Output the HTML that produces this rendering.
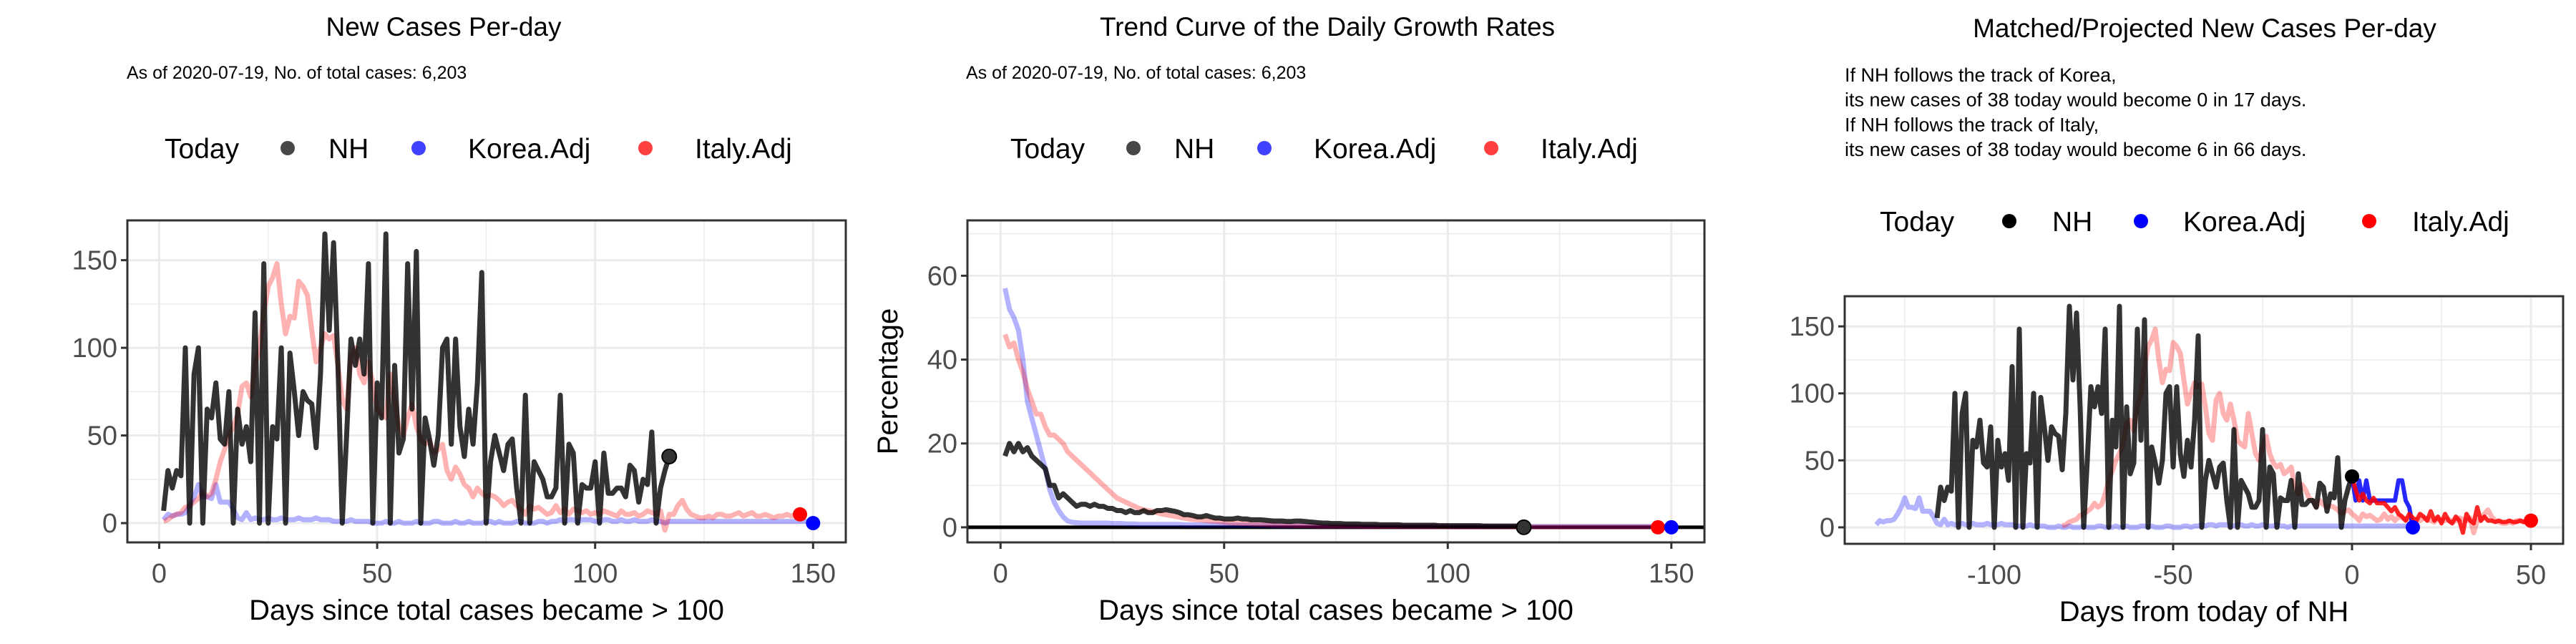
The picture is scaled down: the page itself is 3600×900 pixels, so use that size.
<!DOCTYPE html>
<html><head><meta charset="utf-8">
<style>
html,body{margin:0;padding:0;background:#fff;}
svg{display:block;font-family:"Liberation Sans",Arial,sans-serif;}
</style></head>
<body>
<svg id="chart" width="3600" height="900" viewBox="0 0 3600 900" xmlns="http://www.w3.org/2000/svg"></svg>
<script>
// ---- data ----
const nhCases = [7,30,20,30,27,100,0,85,100,0,65,60,80,48,45,75,0,65,45,55,35,120,0,148,0,55,48,100,0,97,75,50,75,70,68,43,85,165,110,160,90,0,50,105,90,105,85,148,0,80,60,165,0,90,40,48,148,65,155,0,60,48,33,50,100,105,45,105,55,38,65,45,80,143,0,35,50,40,30,45,48,20,0,73,0,35,30,25,15,15,20,73,0,45,40,0,22,20,20,35,0,40,17,17,20,20,15,33,30,12,25,22,52,0,20,30,38];
const italyCases = [1,2,4,5,6,9,10,12,14,18,15,17,25,35,42,50,55,62,78,80,72,90,100,120,135,140,148,125,108,118,117,138,135,130,110,92,100,108,105,107,90,70,65,95,100,85,80,92,80,65,62,60,85,70,55,50,60,68,55,48,45,47,40,42,45,30,25,32,28,22,20,15,20,17,15,16,15,13,10,12,13,10,8,5,10,8,9,7,5,6,10,6,8,5,8,7,6,7,5,6,5,7,6,5,4,7,5,5,6,4,5,7,6,5,7,-4,5,5,10,13,8,5,4,3,3,4,3,5,5,4,4,5,6,4,5,6,4,4,5,4,3,4,4,5,4,5,5];
const koreaCases = [2,5,4,5,5,6,10,15,22,15,15,14,22,12,12,12,8,3,2,6,2,3,2,2,3,2,2,3,2,2,2,3,2,2,2,3,2,2,2,1,1,1,1,2,1,1,1,1,0,0,0,1,0,0,1,0,0,0,1,0,0,0,1,1,0,0,0,1,0,0,1,0,0,0,1,1,0,1,0,0,0,1,1,0,0,0,1,1,0,1,1,2,1,2,2,1,2,2,2,1,1,2,2,1,1,2,1,1,2,1,1,1,2,1,1,0,1,1,1,1,1,1,1,1,1,1,1,1,1,1,1,1,1,1,1,1,1,1,1,1,1,1,1,1,1,1,1,1,1,0];
const nhGrowth = [17,20,18,20,18,19,17,16,15,14,10,10,7,8,7,6,5,5.5,5.5,5,5.5,5,5,4.5,4.5,4,4,3.5,4,3.5,3.5,4,3.5,3.5,4,4,4.2,4,3.8,3.5,3,3,2.8,2.5,2.5,2.8,2.5,2.2,2.2,2,2,2,2.2,2,2,1.8,1.8,1.8,1.7,1.6,1.5,1.5,1.5,1.4,1.4,1.5,1.5,1.4,1.3,1.2,1.1,1,1,0.9,0.9,0.9,0.8,0.8,0.8,0.8,0.7,0.7,0.7,0.7,0.6,0.6,0.6,0.6,0.6,0.5,0.5,0.5,0.5,0.5,0.5,0.5,0.5,0.4,0.4,0.4,0.4,0.4,0.4,0.4,0.4,0.4,0.4,0.3,0.3,0.3,0.3,0.3,0.3,0.3,0.3,0.3,0.3];
const koreaGrowth = [57,52,50,47,40,30,26,22,18,14,9,6,4,2.5,1.5,1.2,1.1,1,1,1,1,1,1,1,0.9,0.9,0.9,0.8,0.8,0.8,0.7,0.7,0.7,0.7,0.7,0.7,0.7,0.7,0.7,0.7,0.6,0.6,0.6,0.6,0.6,0.6,0.6,0.6,0.6,0.6,0.5,0.5,0.5,0.5,0.5,0.5,0.5,0.5,0.5,0.5,0.4,0.4,0.4,0.4,0.4,0.4,0.4,0.4,0.4,0.4,0.3,0.3,0.3,0.3,0.3,0.3,0.3,0.3,0.3,0.3,0.3,0.3,0.3,0.3,0.3,0.3,0.3,0.3,0.3,0.3,0.3,0.3,0.3,0.3,0.3,0.3,0.3,0.3,0.3,0.3,0.2,0.2,0.2,0.2,0.2,0.2,0.2,0.2,0.2,0.2,0.2,0.2,0.2,0.2,0.2,0.2,0.2,0.2,0.2,0.2,0.2,0.2,0.2,0.2,0.2,0.2,0.2,0.2,0.2,0.2,0.2,0.2,0.2,0.2,0.2,0.2,0.2,0.2,0.2,0.2,0.2,0.2,0.2,0.2,0.2,0.2,0.2,0.2,0.2,0.2];
const italyGrowth = [46,43,44,40,37,33,30,27,27,24,22,22,21,20,18,17,16,15,14,13,12,11,10,9,8,7,6.5,6,5.5,5,4.5,4.2,4,3.8,3.5,3.2,3,2.8,2.6,2.4,2.2,2,1.9,1.8,1.7,1.6,1.5,1.4,1.3,1.2,1.1,1,1,0.9,0.9,0.8,0.8,0.7,0.7,0.6,0.6,0.5,0.5,0.5,0.5,0.4,0.4,0.4,0.4,0.4,0.3,0.3,0.3,0.3,0.3,0.3,0.3,0.3,0.3,0.3,0.2,0.2,0.2,0.2,0.2,0.2,0.2,0.2,0.2,0.2,0.2,0.2,0.2,0.2,0.2,0.2,0.2,0.2,0.2,0.2,0.1,0.1,0.1,0.1,0.1,0.1,0.1,0.1,0.1,0.1,0.1,0.1,0.1,0.1,0.1,0.1,0.1,0.1,0.1,0.1,0.1,0.1,0.1,0.1,0.1,0.1,0.1,0.1,0.1,0.1,0.1,0.1,0.1,0.1,0.1,0.1,0.1,0.1,0.1,0.1,0.1,0.1,0.1,0.1,0.1,0.1,0.1];
const koreaProj = [38,20,35,20,35,20,20,20,20,20,20,20,20,35,35,20,15,0];
const italyProj = [38,28,20,25,20,18,22,18,18,18,15,12,15,10,8,5,10,7,5,10,8,5,12,5,8,3,10,5,3,8,5,-4,10,5,3,15,5,8,5,5,4,5,4,4,5,4,4,5,4,5,5];
const casesTicks = [0,50,100,150];
const growthTicks = [0,20,40,60];
const daysTicks = [0,50,100,150];
const fromTodayTicks = [-100,-50,0,50];
const nhOffset = 117, italyOffset = 82, koreaOffset = 134;

const svg = document.getElementById('chart');
const NS = 'http://www.w3.org/2000/svg';
function mk(tag, attrs, parent){const e=document.createElementNS(NS,tag);for(const k in attrs)e.setAttribute(k,attrs[k]);(parent||svg).appendChild(e);return e;}
function txt(s,x,y,size,anchor,fill,parent){const t=mk('text',{x:x,y:y,'font-size':size,'text-anchor':anchor||'start',fill:fill||'#000'},parent);t.textContent=s;return t;}

function panel(p){
  const g = mk('g',{});
  
  
  const sx = v => p.x0 + (v - p.xmin)/(p.xmax - p.xmin)*(p.x1 - p.x0);
  const sy = v => p.y1 - (v - p.ymin)/(p.ymax - p.ymin)*(p.y1 - p.y0);
  // minor grid
  p.xminor.forEach(v=>mk('line',{x1:sx(v),x2:sx(v),y1:p.y0,y2:p.y1,stroke:'#ebebeb','stroke-width':1.5},g));
  p.yminor.forEach(v=>mk('line',{x1:p.x0,x2:p.x1,y1:sy(v),y2:sy(v),stroke:'#ebebeb','stroke-width':1.5},g));
  p.xticks.forEach(v=>mk('line',{x1:sx(v),x2:sx(v),y1:p.y0,y2:p.y1,stroke:'#ebebeb','stroke-width':3},g));
  p.yticks.forEach(v=>mk('line',{x1:p.x0,x2:p.x1,y1:sy(v),y2:sy(v),stroke:'#ebebeb','stroke-width':3},g));
  const cid = 'clip-'+p.name;
  const cp = mk('clipPath',{id:cid},g); mk('rect',{x:p.x0,y:p.y0,width:p.x1-p.x0,height:p.y1-p.y0},cp);
  const lg = mk('g',{'clip-path':'url(#'+cid+')'},g);
  if(p.zeroLine){const z=mk('line',{x1:p.x0,x2:p.x1,y1:sy(0),y2:sy(0),stroke:'#000','stroke-width':5},lg);
    
    }
  p.series.forEach(s=>{
    let d='';
    s.vals.forEach((v,i)=>{const xv=i+s.off; if(s.maxX!==undefined && xv>s.maxX) return; d+=(d?'L':'M')+sx(xv).toFixed(1)+','+sy(v).toFixed(1);});
    const path = mk('path',{d:d,fill:'none',stroke:s.color,'stroke-width':s.w,'stroke-opacity':s.op,'stroke-linejoin':'round'},lg);
    
    
  });
  p.dots.forEach(dt=>{
    const c = mk('circle',{cx:sx(dt.x),cy:sy(dt.y),r:10,fill:dt.color,'fill-opacity':dt.op||1,stroke:'#000','stroke-opacity':dt.so||0,'stroke-width':2},g);
    
    
  });
  mk('rect',{x:p.x0,y:p.y0,width:p.x1-p.x0,height:p.y1-p.y0,fill:'none',stroke:'#333','stroke-width':3},g);
  p.xticks.forEach(v=>{mk('line',{x1:sx(v),x2:sx(v),y1:p.y1,y2:p.y1+9,stroke:'#333','stroke-width':3},g);
    const t=txt(String(v).replace('-','-'),sx(v),p.y1+56,38,'middle','#4d4d4d',g);
    
    });
  p.yticks.forEach(v=>{mk('line',{x1:p.x0-9,x2:p.x0,y1:sy(v),y2:sy(v),stroke:'#333','stroke-width':3},g);
    const t=txt(String(v),p.x0-14,sy(v)+13,38,'end','#4d4d4d',g);
    
    });
  const xt = txt(p.xtitle,(p.x0+p.x1)/2,p.y1+108,40,'middle','#000',g);
  
  
  if(p.ytitle){const yt=mk('text',{x:0,y:0,'font-size':40,'text-anchor':'middle',transform:'translate('+p.ytx+','+((p.y0+p.y1)/2)+') rotate(-90)'},g);yt.textContent=p.ytitle;
    
    }
}

function legend(x, y, pos, cols){
  const g = mk('g',{});
  
  
  const t=txt('Today',x,y+14,39,'start','#000',g);
  
  
  const labels=['NH','Korea.Adj','Italy.Adj'];
  labels.forEach((l,i)=>{
    const c=mk('circle',{cx:pos[i][0],cy:y,r:10,fill:cols[i][0],'fill-opacity':cols[i][1]},g);
    
    
    const lt=txt(l,pos[i][1],y+14,39,'start','#000',g);
    
    
  });
}

// Panel 1
const tt1=txt('New Cases Per-day',620,50,37,'middle');


const st1=txt('As of 2020-07-19, No. of total cases: 6,203',177,110,25,'start');


legend(230,207,[[402,459],[585,654],[902,971]],[['#333',0.9],['#00f',0.75],['#f00',0.75]]);
panel({name:'new-cases-panel',x0:178,x1:1182,y0:308,y1:758,xmin:-7.3,xmax:157.5,ymin:-11,ymax:172.7,
  xticks:daysTicks,xminor:[25,75,125],yticks:casesTicks,yminor:[25,75,125],
  series:[
    {name:'korea-line',vals:koreaCases,off:1,color:'#00f',w:7,op:0.3},
    {name:'italy-line',vals:italyCases,off:1,color:'#f00',w:7,op:0.3},
    {name:'nh-line',vals:nhCases,off:1,color:'#000',w:7,op:0.8}],
  dots:[{name:'nh-today-dot',x:117,y:38,color:'#333',so:1},{name:'italy-today-dot',x:147,y:5,color:'#f00'},{name:'korea-today-dot',x:150,y:0,color:'#00f'}],
  xtitle:'Days since total cases became > 100'});

// Panel 2
const tt2=txt('Trend Curve of the Daily Growth Rates',1855,50,37,'middle');


const st2=txt('As of 2020-07-19, No. of total cases: 6,203',1350,110,25,'start');


legend(1412,207,[[1584,1641],[1767,1836],[2084,2153]],[['#333',0.9],['#00f',0.75],['#f00',0.75]]);
panel({name:'growth-rate-panel',x0:1352,x1:2382,y0:308,y1:758,xmin:-7.4,xmax:157.4,ymin:-3.6,ymax:73.2,
  xticks:daysTicks,xminor:[25,75,125],yticks:growthTicks,yminor:[10,30,50,70],zeroLine:true,
  series:[
    {name:'korea-growth-line',vals:koreaGrowth,off:1,color:'#00f',w:7,op:0.3},
    {name:'italy-growth-line',vals:italyGrowth,off:1,color:'#f00',w:7,op:0.3},
    {name:'nh-growth-line',vals:nhGrowth,off:1,color:'#000',w:7,op:0.8}],
  dots:[{name:'nh-today-dot',x:117,y:0,color:'#333',so:1},{name:'italy-today-dot',x:147,y:0,color:'#f00'},{name:'korea-today-dot',x:150,y:0,color:'#00f'}],
  xtitle:'Days since total cases became > 100',ytitle:'Percentage',ytx:1254});

// Panel 3
const tt3=txt('Matched/Projected New Cases Per-day',3081,52,37,'middle');


['If NH follows the track of Korea,','its new cases of 38 today would become 0 in 17 days.','If NH follows the track of Italy,','its new cases of 38 today would become 6 in 66 days.'].forEach((s,i)=>{
  const t=txt(s,2578,114+i*34.7,27,'start');
  
  
});
legend(2627,309,[[2808,2868],[2992,3051],[3311,3371]],[['#000',1],['#00f',1],['#f00',1]]);
panel({name:'projection-panel',x0:2578,x1:3582,y0:414,y1:760,xmin:-141.8,xmax:59,ymin:-12.3,ymax:172.5,
  xticks:fromTodayTicks,xminor:[-125,-75,-25,25],yticks:casesTicks,yminor:[25,75,125],
  series:[
    {name:'korea-matched-line',vals:koreaCases,off:1-koreaOffset,color:'#00f',w:7,op:0.3},
    {name:'italy-matched-line',vals:italyCases,off:1-italyOffset,color:'#f00',w:7,op:0.3,maxX:50},
    {name:'nh-line',vals:nhCases,off:1-nhOffset,color:'#000',w:7,op:0.8},
    {name:'korea-projection-line',vals:koreaProj,off:0,color:'#00f',w:6,op:0.85},
    {name:'italy-projection-line',vals:italyProj,off:0,color:'#f00',w:6,op:0.85}],
  dots:[{name:'nh-today-dot',x:0,y:38,color:'#000'},{name:'korea-end-dot',x:17,y:0,color:'#00f'},{name:'italy-end-dot',x:50,y:5,color:'#f00'}],
  xtitle:'Days from today of NH'});
</script>
</body></html>
